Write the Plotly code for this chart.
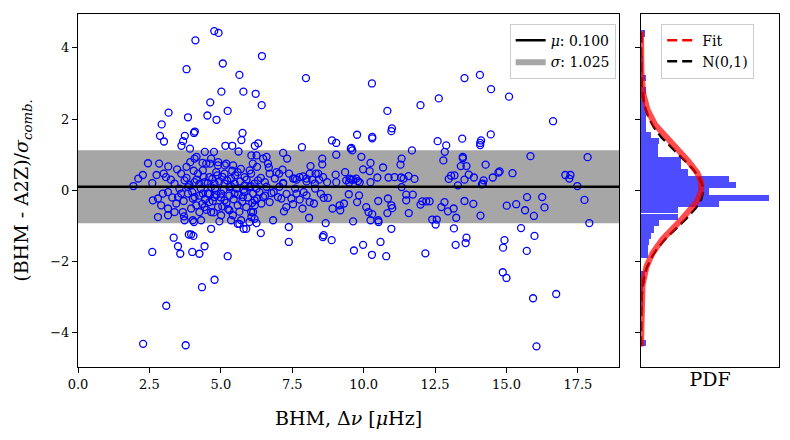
import numpy as np
import plotly.graph_objects as go

# fit summary of the residuals
MU = 0.100
SIGMA = 1.025

# BHM large separation (muHz) and normalised difference
bhm_dnu = [
    4.77, 4.92, 4.11, 5.07, 6.44, 3.80, 5.65, 7.98, 5.02, 5.79, 6.22, 4.63, 6.43, 3.17, 5.24, 3.85, 4.53, 4.85,
    2.93, 4.09, 4.06, 5.76, 2.87, 3.74, 3.01, 3.68, 3.62, 5.72, 3.92, 5.16, 5.40, 5.62, 6.19, 6.31, 7.84, 8.89,
    9.04, 9.04, 9.55,
    2.45, 2.84, 3.16, 2.27, 2.11, 1.94, 2.60, 2.75, 3.08, 3.47, 3.80, 3.93, 4.15, 4.44, 4.76, 4.36, 4.62, 4.91,
    5.14, 5.43, 6.07, 6.60, 7.18, 7.32, 8.55, 8.55, 8.14, 6.68, 6.27, 6.01, 7.04, 7.39, 7.88, 8.32, 8.58, 9.02,
    9.35, 7.59, 6.89, 7.18, 8.00, 8.29, 9.04, 9.39,
    10.29, 13.53, 14.07, 14.46, 15.09, 12.63, 11.99, 10.83, 16.63, 10.99, 10.97, 9.77, 10.30, 10.30, 13.45,
    14.45, 14.11, 14.08, 14.08, 12.59, 12.89, 12.84, 9.57, 9.60, 11.69,
    9.92, 11.33, 11.29, 12.79, 13.47, 13.47, 13.40, 13.60, 14.27, 15.84, 17.84, 10.24, 9.98, 10.21, 10.68,
    10.87, 10.48, 11.31, 11.57, 11.78, 13.06, 12.98, 13.68, 13.86, 13.53, 14.20, 14.52, 14.72, 14.76, 15.21,
    17.06, 17.24, 17.20, 17.48, 9.63, 9.56, 9.80, 10.24, 11.33, 13.30, 14.17,
    12.83, 12.72, 12.95, 13.15, 13.24, 13.53, 13.84, 14.09, 15.01, 15.34, 15.65, 15.72, 15.96, 16.25, 16.33,
    17.73, 17.90, 12.40, 12.56, 12.52, 13.16, 15.51, 14.14, 13.18, 12.31,
    6.25, 6.83, 7.21, 7.29, 7.53, 7.86, 8.09, 8.26, 8.60, 8.75, 8.91, 8.67, 9.16, 9.18, 9.31, 9.48, 9.63,
    9.77, 9.84, 10.09, 10.17, 10.30, 10.51, 10.51, 10.85, 10.83, 10.97, 11.00, 11.49, 11.49, 11.72, 11.58,
    11.99, 12.05, 12.19,
    6.13, 6.27, 6.19, 6.13, 6.07, 6.42, 6.48, 6.71, 6.77, 7.00, 7.12, 7.47, 7.65, 7.76, 8.00, 8.11,
    6.48, 6.25, 6.65, 11.08, 11.40, 9.51, 9.74, 9.49, 9.86, 8.72, 8.41, 8.20, 8.44, 7.76, 8.00, 7.53, 7.65,
    6.95, 7.16, 6.71, 7.18, 8.11, 6.30, 6.54,
    3.00, 3.38, 3.61, 3.73, 4.08, 4.49, 4.66, 4.90, 5.19, 6.12, 4.20, 4.37, 4.60, 4.84, 5.13, 5.36, 5.59,
    5.83, 6.06, 4.08, 4.43, 4.78, 5.13, 5.48, 5.83, 6.18, 3.85, 4.66, 5.30, 6.00,
    2.62, 2.80, 2.97, 3.15, 2.91, 3.15, 2.80, 3.15, 3.50, 3.44, 3.38, 3.67, 3.71, 3.73, 4.02, 4.31, 3.85,
    4.02, 4.14, 3.96, 4.25, 4.43, 4.60, 4.78, 4.90, 5.13, 5.30, 5.42, 5.59, 5.77, 5.89, 6.06, 6.18, 5.36,
    5.71, 6.00, 6.18, 4.08, 4.37, 5.01, 4.66, 5.01, 3.61, 4.55, 5.48, 5.83,
    4.66, 4.95, 5.89, 5.59,
    2.60, 3.35, 3.50, 3.58, 3.88, 3.96, 4.04, 4.00, 4.25, 4.43, 5.24, 4.78, 4.34, 3.09, 2.28, 3.77, 5.80,
    6.40, 7.38, 7.38, 8.57, 8.60, 8.88, 9.66, 5.65, 4.06,
    10.52, 10.24, 10.97, 9.98, 10.29, 10.59, 10.79, 12.16, 13.22, 13.57, 13.60, 14.88, 14.93, 14.87, 15.00,
    15.98, 15.71, 15.93, 16.74, 16.05,
    3.90, 4.00, 4.15, 4.25, 4.30, 4.40, 4.45, 4.55, 4.60, 4.70, 4.72, 4.80, 4.85, 4.95, 5.00, 5.05, 5.10,
    5.20, 5.22, 5.30, 5.35, 5.45, 5.50, 5.55, 5.60, 5.68, 5.75, 5.80, 5.90, 5.95, 6.05, 6.10, 6.25, 6.35,
    6.40, 6.55, 6.60, 4.50, 4.75, 5.05, 5.25, 5.65, 3.70, 3.80, 4.05, 4.35, 4.25, 4.88, 5.40, 5.70, 3.55,
    3.30, 3.25, 6.85, 7.05, 7.30, 7.60, 7.90, 8.30, 8.50,
]
diff_norm = [
    4.47, 4.42, 4.21, 3.56, 3.77, 3.40, 3.24, 3.15, 2.77, 2.77, 2.71, 2.47, 2.39, 2.18, 2.23, 2.05, 2.10, 1.98,
    1.85, 1.65, 1.61, 1.61, 1.53, 1.53, 1.37, 1.38, 1.25, 1.41, 1.17, 1.25, 1.25, 1.09, 1.25, 1.32, 1.21, 1.40,
    1.33, 1.00, 1.17,
    0.76, 0.75, 0.67, 0.43, 0.33, 0.12, 0.20, 0.43, 0.37, 0.59, 0.66, 0.79, 0.94, 1.08, 1.08, 0.77, 0.75, 0.79,
    0.70, 0.70, 0.98, 0.94, 1.05, 0.89, 0.89, 0.73, 0.68, 0.64, 0.66, 0.56, 0.47, 0.47, 0.39, 0.47, 0.37, 0.44,
    0.51, 0.33, 0.33, 0.19, 0.25, 0.19, 0.23, 0.28,
    3.00, 3.15, 3.24, 2.84, 2.63, 2.58, 2.39, 2.23, 1.94, 1.74, 1.66, 1.56, 1.50, 1.46, 1.45,
    1.57, 1.40, 1.33, 1.27, 1.38, 1.26, 1.08, 1.19, 1.12, 1.12,
    0.94, 0.89, 0.72, 0.84, 0.94, 0.90, 0.68, 0.68, 0.72, 0.96, 0.93, 0.77, 0.59, 0.54, 0.64,
    0.36, 0.36, 0.36, 0.40, 0.32, 0.41, 0.32, 0.44, 0.36, 0.30, 0.28, 0.36, 0.50, 0.53, 0.48,
    0.43, 0.43, 0.33, 0.12, 0.30, 0.30, 0.26, 0.23, 0.09, 0.14, 0.19,
    -0.33, -0.47, -0.59, -0.51, -0.77, -0.30, -0.38, -0.71, -0.43, -0.39, -0.56, -0.19, -0.72, -0.19, -0.48,
    -0.27, -0.92, -0.82, -0.82, -0.96, -1.07, -1.06, 0.17, 0.42, -0.31,
    -0.92, -0.84, -0.59, -0.47, -0.39, -0.51, -0.77, -0.37, -0.21, -0.21, -0.51, -0.92, -0.42, -0.56, -0.37,
    -0.11, -0.87, -0.33, -0.14, -0.47, -0.61, -0.67, -0.30, -0.84, -0.23, -0.64, -0.42, -0.50, -0.12, -0.28,
    -0.12, -0.64, -0.40, -0.31, -0.31,
    -0.09, -0.23, -0.42, -0.61, -0.75, -0.37, -0.19, -0.33, -0.08, -0.19, -0.23, -0.23, -0.09, -0.26, -0.14,
    -0.33,
    0.89, 0.98, 0.75, 0.37, 0.33, 0.33, 0.33, 0.22, 0.22, 0.23, 0.47, 0.30, 0.30, 0.37, 0.33, 0.33, 0.30,
    0.51, 0.58, 0.47, 0.21, 0.47, 0.28, 0.23,
    0.47, 0.19, 0.47, 0.28, 0.89, 0.75, 0.89, 0.70, 0.75, 0.75, 0.47, 0.56, 0.37, 0.51, 0.47, 0.33, 0.51,
    0.37, 0.47, 0.23, 0.23, 0.19, 0.19, 0.19, 0.14, 0.19, 0.09, 0.09, 0.09, 0.09,
    -0.28, -0.23, -0.09, -0.05, -0.42, -0.51, -0.75, -0.70, -0.19, -0.37, -0.61, -0.61, -0.73, -0.84, -0.84,
    -0.84, -0.09, -0.23, -0.42, -0.51, -0.61, -0.47, -0.33, -0.19, -0.47, -0.28, -0.56, -0.70, -0.42, -0.19,
    -0.47, -0.61, -0.28, -0.84, -0.84, -0.89, -0.80, -0.19, -0.09, -0.09, -0.61, -0.70, -0.09, -0.09, -0.09,
    -0.05,
    -1.08, -0.87, -1.08, -0.94,
    -1.73, -1.33, -1.57, -1.78, -1.24, -1.24, -1.28, -1.73, -1.78, -1.57, -1.85, -2.51, -2.72, -3.24, -4.31,
    -4.35, -1.08, -1.20, -1.03, -1.45, -1.31, -1.26, -1.40, -1.69, -0.94, -0.89,
    -0.89, -0.84, -1.08, -1.53, -1.81, -1.45, -1.85, -1.77, -1.53, -1.48, -1.33, -1.61, -1.40, -2.30, -2.46,
    -1.28, -1.70, -3.03, -2.91, -4.38,
    0.15, -0.05, 0.30, -0.15, 0.05, 0.38, -0.25, 0.20, -0.10, 0.32, -0.30, 0.05, -0.12, 0.25, -0.20, 0.38,
    0.02, -0.35, 0.28, -0.15, 0.12, -0.25, 0.42, 0.05, -0.12, 0.25, -0.32, 0.02, 0.30, -0.20, 0.12, -0.35,
    0.05, -0.05, 0.35, -0.15, 0.10, -0.55, -0.62, -0.45, -0.52, -0.60, -0.30, 0.35, 0.55, -0.38, 0.18, 0.42,
    0.55, 0.60, 0.05, -0.20, 0.30, -0.05, 0.10, -0.10, 0.05, -0.05, 0.05, -0.10,
]

# density histogram of the differences (bin centres, pdf)
hist_centre = [
    4.40, 4.22, 4.05, 3.87, 3.69, 3.51, 3.34, 3.16, 2.98, 2.80, 2.63, 2.45, 2.27, 2.09, 1.92, 1.74, 1.56,
    1.38, 1.21, 1.03, 0.85, 0.67, 0.50, 0.32, 0.14, -0.03, -0.21, -0.39, -0.56, -0.74, -0.92, -1.10, -1.27,
    -1.45, -1.63, -1.81, -1.98, -2.16, -2.34, -2.52, -2.69, -2.87, -3.05, -3.23, -3.40, -3.58, -3.76, -3.94,
    -4.12, -4.29,
]
hist_pdf = [
    0.023, 0.011, 0.0, 0.0, 0.011, 0.011, 0.011, 0.034, 0.011, 0.032, 0.023, 0.023, 0.034, 0.032, 0.032,
    0.032, 0.064, 0.116, 0.110, 0.110, 0.257, 0.257, 0.300, 0.566, 0.611, 0.437, 0.824, 0.502, 0.238, 0.238,
    0.116, 0.084, 0.064, 0.051, 0.045, 0.045, 0.0, 0.0, 0.023, 0.023, 0.011, 0.011, 0.011, 0.011, 0.0, 0.0,
    0.0, 0.0, 0.0, 0.034,
]
BIN_W = 0.1774

x_ticks = [0, 2.5, 5, 7.5, 10, 12.5, 15, 17.5]
y_ticks = [-4, -2, 0, 2, 4]
X_RANGE = [0, 18.94]
Y_RANGE = [-4.96, 4.95]

FONT = "DejaVu Serif"

yy = np.linspace(min(diff_norm), max(diff_norm), 300)
fit_pdf = np.exp(-0.5 * ((yy - MU) / SIGMA) ** 2) / (SIGMA * np.sqrt(2 * np.pi))
std_pdf = np.exp(-0.5 * yy ** 2) / np.sqrt(2 * np.pi)

fig = go.Figure()

# +-1 sigma band and the mean
fig.add_trace(go.Scatter(
    x=[X_RANGE[0], X_RANGE[1], X_RANGE[1], X_RANGE[0], X_RANGE[0]],
    y=[MU - SIGMA, MU - SIGMA, MU + SIGMA, MU + SIGMA, MU - SIGMA],
    fill="toself", fillcolor="#a6a6a6", mode="lines", line=dict(width=0, color="#a6a6a6"),
    name="<i>σ</i>: %.3f" % SIGMA, legendrank=2, hoverinfo="skip",
))
fig.add_trace(go.Scatter(
    x=bhm_dnu, y=diff_norm, mode="markers",
    marker=dict(symbol="circle-open", size=7, color="blue", line=dict(width=1.3)),
    showlegend=False,
))
fig.add_trace(go.Scatter(
    x=X_RANGE, y=[MU, MU], mode="lines", line=dict(color="black", width=2.5),
    name="<i>μ</i>: %.3f" % MU, legendrank=1,
))

# PDF panel
fig.add_trace(go.Bar(
    x=hist_pdf, y=hist_centre, orientation="h", width=BIN_W,
    marker=dict(color="rgb(77,77,255)", line=dict(width=0)),
    xaxis="x2", yaxis="y2", showlegend=False,
))
fig.add_trace(go.Scatter(
    x=std_pdf, y=yy, mode="lines", line=dict(color="black", width=2.5, dash="10px,5px"),
    xaxis="x2", yaxis="y2", showlegend=False,
))
fig.add_trace(go.Scatter(
    x=fit_pdf, y=yy, mode="lines", line=dict(color="rgba(255,0,0,0.7)", width=6),
    xaxis="x2", yaxis="y2", showlegend=False,
))
# legend handles for the PDF panel
fig.add_trace(go.Scatter(
    x=[None], y=[None], mode="lines", line=dict(color="red", width=2.5, dash="10px,5px"),
    name="Fit", legend="legend2", xaxis="x2", yaxis="y2",
))
fig.add_trace(go.Scatter(
    x=[None], y=[None], mode="lines", line=dict(color="black", width=2.5, dash="10px,5px"),
    name="N(0,1)", legend="legend2", xaxis="x2", yaxis="y2",
))

axis_common = dict(showline=True, mirror=True, linecolor="black", linewidth=1, automargin=False,
                   showgrid=False, zeroline=False, ticks="outside", ticklen=5, tickcolor="black",
                   tickfont=dict(family=FONT, size=13, color="black"))

# the page body adds an 8px offset, so margins are shifted to compensate
fig.update_layout(
    width=790, height=440,
    margin=dict(l=70, r=19, t=6, b=81, autoexpand=False),
    plot_bgcolor="white", paper_bgcolor="white",
    font=dict(family=FONT, color="black"),
    bargap=0,
    xaxis=dict(domain=[0, 0.7718], range=X_RANGE, tickvals=x_ticks, tickformat=".1f",
               title=dict(text="BHM, Δ<i>ν</i> [<i>μ</i>Hz]", font=dict(size=19), standoff=21),
               **axis_common),
    yaxis=dict(domain=[0, 1], range=Y_RANGE, tickvals=y_ticks,
               title=dict(text="(BHM - A2Z)/<i>σ</i><sub><i>comb.</i></sub>", font=dict(size=19), standoff=16),
               **axis_common),
    xaxis2=dict(domain=[0.8031, 1], range=[0, 0.888], anchor="y2", showticklabels=False,
                title=dict(text="PDF", font=dict(size=19), standoff=5),
                **{**axis_common, "ticks": ""}),
    yaxis2=dict(domain=[0, 1], range=Y_RANGE, anchor="x2", matches="y", tickvals=y_ticks,
                showticklabels=False, **axis_common),
    legend=dict(x=0.767, y=0.973, xanchor="right", yanchor="top", bgcolor="rgba(255,255,255,0.8)",
                bordercolor="#cccccc", borderwidth=1, font=dict(family=FONT, size=14)),
    legend2=dict(x=0.9646, y=0.973, xanchor="right", yanchor="top", bgcolor="rgba(255,255,255,0.8)",
                 bordercolor="#cccccc", borderwidth=1, font=dict(family=FONT, size=14)),
)

fig.write_html("out.html")
